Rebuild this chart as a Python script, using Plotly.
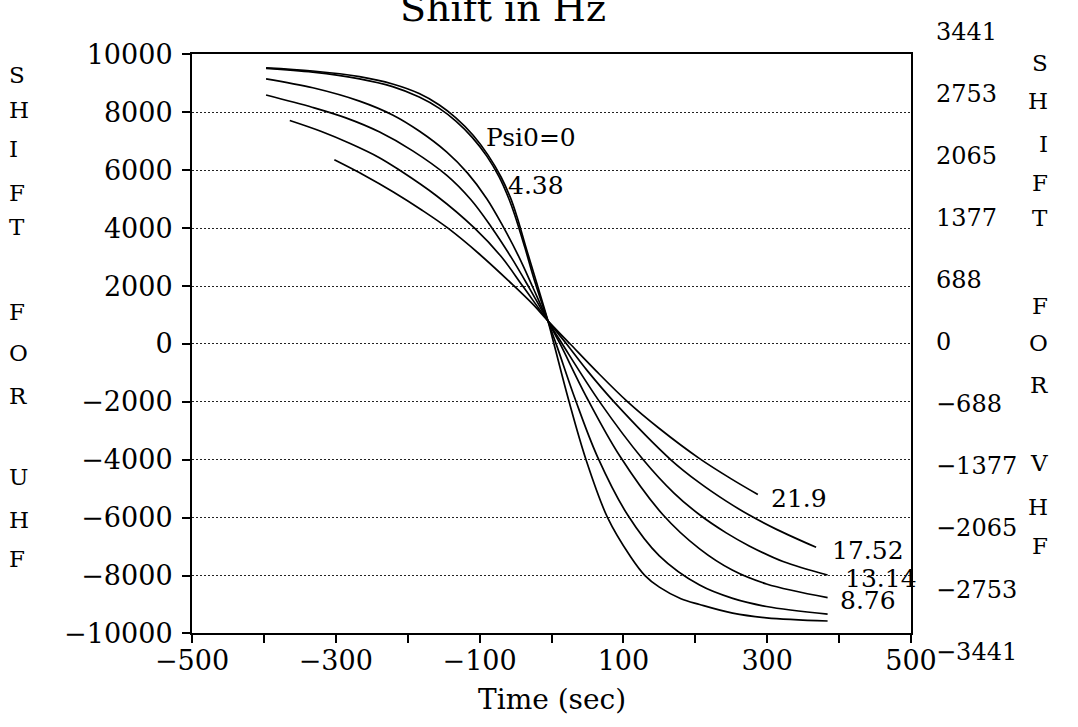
import plotly.graph_objects as go

# ---- data -------------------------------------------------------------
# Frequency shift (Hz, UHF scale) versus time for several Psi0 values
psi0_labels = ["Psi0=0", "4.38", "8.76", "13.14", "17.52", "21.9"]

t_psi0_0 = [-397, -332, -267, -221, -184, -156, -133, -109, -88, -70, -57, -48, -35, -21, -5,
            4, 24, 48, 78, 110, 130, 150, 180, 206, 252, 299, 384]
s_psi0_0 = [9540, 9430, 9235, 8980, 8650, 8255, 7810, 7210, 6515, 5760, 5045, 4395, 3290, 2140, 800,
            -55, -1955, -4000, -6000, -7350, -8000, -8400, -8800, -9000, -9300, -9460, -9570]

t_psi0_438 = [-397, -332, -267, -221, -184, -156, -133, -110, -90, -73, -60, -51, -37, -24, -5,
              8, 33, 64, 106, 150, 206, 252, 299, 384]
s_psi0_438 = [9520, 9390, 9160, 8890, 8530, 8140, 7700, 7130, 6490, 5780, 5060, 4450, 3330, 2220, 800,
              -110, -1910, -3900, -5910, -7320, -8330, -8790, -9070, -9330]

t_psi0_876 = [-397, -332, -267, -221, -184, -146, -117, -90, -68, -46, -26, -5,
              12, 48, 95, 155, 206, 252, 299, 384]
s_psi0_876 = [9160, 8850, 8390, 7910, 7355, 6635, 5910, 5020, 4090, 3040, 1960, 800,
              0, -1800, -3870, -5900, -7080, -7820, -8290, -8760]

t_psi0_1314 = [-397, -332, -286, -239, -193, -146, -112, -84, -56, -31, -5,
               15, 67, 127, 170, 206, 243, 275, 322, 384]
s_psi0_1314 = [8600, 8170, 7810, 7320, 6670, 5830, 4980, 4050, 2990, 1940, 800,
               0, -2000, -3980, -5140, -5900, -6525, -6975, -7515, -7980]

t_psi0_1752 = [-364, -320, -280, -240, -211, -160, -107, -70, -40, -5,
               21, 50, 87, 166, 206, 243, 275, 313, 368]
s_psi0_1752 = [7720, 7340, 6925, 6445, 6000, 5120, 4000, 3020, 2000, 800,
               0, -930, -2000, -4000, -4800, -5430, -5910, -6405, -7025]

t_psi0_219 = [-302, -260, -220, -180, -144, -100, -54, -25, -5,
              26, 62, 106, 150, 206, 250, 287]
s_psi0_219 = [6360, 5820, 5250, 4620, 4000, 3100, 2050, 1350, 800,
              0, -930, -2000, -2920, -3960, -4660, -5200]

times = [t_psi0_0, t_psi0_438, t_psi0_876, t_psi0_1314, t_psi0_1752, t_psi0_219]
shifts = [s_psi0_0, s_psi0_438, s_psi0_876, s_psi0_1314, s_psi0_1752, s_psi0_219]

# curve label anchor points (time, shift)
label_time = [-28, -21, 440, 458, 440, 344]
label_shift = [7120, 5480, -8878, -8095, -7143, -5340]

x_tick_vals = [-500, -400, -300, -200, -100, 0, 100, 200, 300, 400, 500]
x_tick_text = ["\u2212500", "", "\u2212300", "", "\u2212100", "", "100", "", "300", "", "500"]
uhf_ticks = [-10000, -8000, -6000, -4000, -2000, 0, 2000, 4000, 6000, 8000, 10000]
uhf_text = ["\u221210000", "\u22128000", "\u22126000", "\u22124000", "\u22122000", "0",
            "2000", "4000", "6000", "8000", "10000"]
vhf_ticks = [-3441, -2753, -2065, -1377, -688, 0, 688, 1377, 2065, 2753, 3441]
vhf_text = ["\u22123441", "\u22122753", "\u22122065", "\u22121377", "\u2212688", "0",
            "688", "1377", "2065", "2753", "3441"]

# ---- layout helpers ---------------------------------------------------
W, H = 1078, 727
ML, MR, MT, MB = 192, 167, 16, 70


def fx(px):
    return (px - ML) / (W - ML - MR)


def fy(py):
    return (H - MB - py) / (H - MT - MB)


SERIF = "DejaVu Serif"

fig = go.Figure()

# carrier trace for the VHF scale on the right (drawn first, underneath)
fig.add_trace(go.Scatter(x=[-500, 500], y=[0, 0], yaxis="y2", mode="lines",
                         line=dict(width=0, color="rgba(0,0,0,0)"),
                         showlegend=False, hoverinfo="skip"))

for t, s in zip(times, shifts):
    fig.add_trace(go.Scatter(
        x=t, y=s, mode="lines",
        line=dict(color="black", width=1.7, shape="spline", smoothing=1.0),
        showlegend=False, hoverinfo="skip"))

annotations = []
for txt, tx, sy in zip(psi0_labels, label_time, label_shift):
    annotations.append(dict(x=tx, y=sy, xref="x", yref="y", text=txt,
                            showarrow=False, font=dict(family=SERIF, size=25, color="black")))

annotations.append(dict(x=fx(503), y=fy(-4), xref="paper", yref="paper",
                        text="Shift in Hz", showarrow=False, yanchor="middle",
                        font=dict(family=SERIF, size=38, color="black")))
annotations.append(dict(x=fx(552), y=fy(700), xref="paper", yref="paper",
                        text="Time (sec)", showarrow=False, yanchor="middle",
                        font=dict(family=SERIF, size=28, color="black")))

left_letters = list("SHIFTFORUHF")
left_rows = [64, 100, 139, 184, 219, 305, 347, 391, 474, 517, 557]
for ch, py in zip(left_letters, left_rows):
    annotations.append(dict(x=fx(7), y=fy(py), xref="paper", yref="paper", text=ch,
                            showarrow=False, yanchor="middle",
                            font=dict(family=SERIF, size=23, color="black")))
right_letters = list("SHIFTFORVHF")
right_rows = [52, 90, 134, 174, 210, 299, 337, 380, 459, 504, 544]
for ch, py in zip(right_letters, right_rows):
    annotations.append(dict(x=fx(1050), y=fy(py), xref="paper", yref="paper", text=ch,
                            showarrow=False, yanchor="middle",
                            font=dict(family=SERIF, size=23, color="black")))

fig.update_layout(
    width=W, height=H,
    margin=dict(l=ML, r=MR, t=MT, b=MB),
    paper_bgcolor="white", plot_bgcolor="rgba(0,0,0,0)",
    showlegend=False,
    annotations=annotations,
    xaxis=dict(range=[-500, 500], tickvals=x_tick_vals, ticktext=x_tick_text,
               ticks="outside", ticklen=8, tickwidth=1.5, tickcolor="black",
               ticklabelstandoff=-6,
               showgrid=False, zeroline=False,
               showline=True, linewidth=2, linecolor="black", mirror=True,
               tickfont=dict(family=SERIF, size=27, color="black")),
    yaxis=dict(range=[-10000, 10000], domain=[fy(633), fy(43)],
               tickvals=uhf_ticks, ticktext=uhf_text,
               ticks="outside", ticklen=8, tickwidth=1.5, tickcolor="black",
               ticklabelstandoff=4,
               showgrid=True, gridcolor="#222", gridwidth=1, griddash="2px,2px",
               zeroline=False,
               showline=True, linewidth=2, linecolor="black", mirror=True,
               tickfont=dict(family=SERIF, size=27, color="black")),
    yaxis2=dict(range=[-3441, 3441], domain=[fy(651), fy(20)],
                anchor="x", side="right",
                tickvals=vhf_ticks, ticktext=vhf_text,
                ticks="", ticklabelstandoff=24,
                showgrid=False, zeroline=False, showline=False,
                tickfont=dict(family=SERIF, size=24, color="black")),
)

fig.write_html("out.html")
